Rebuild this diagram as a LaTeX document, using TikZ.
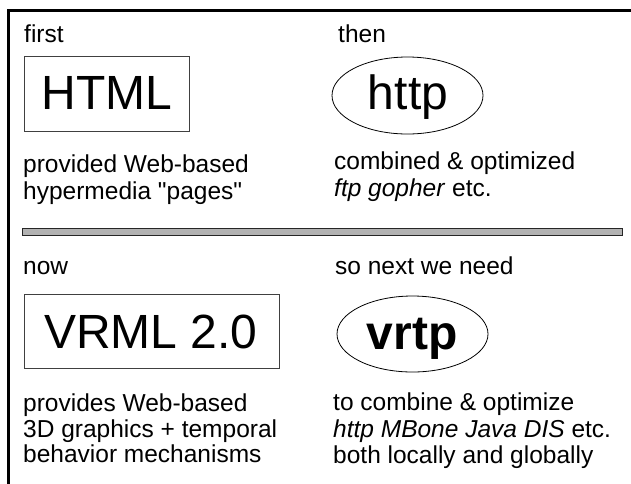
\documentclass[tikz,border=0pt]{standalone}
\usepackage{fontspec}
\setmainfont{Liberation Sans}
\usetikzlibrary{shapes.geometric}
\tikzset{
  lbl/.style={anchor=base west, inner sep=0pt, font=\fontsize{24.5}{27}\selectfont, align=left},
  bigtxt/.style={anchor=base, inner sep=0pt, font=\fontsize{48}{50}\selectfont},
  bigbox/.style={draw=black!75, line width=1pt, inner sep=0pt},
  bigell/.style={ellipse, draw=black, line width=0.8pt, inner sep=0pt},
}
\begin{document}
\begin{tikzpicture}[x=1pt,y=-1pt]
\useasboundingbox (0,0) rectangle (631,483);
\fill[white] (0,0) rectangle (631,483);
% frame
\draw[line width=3pt] (8.5,490) -- (8.5,10.5) -- (640,10.5);
% top half
\node[lbl] (first) at (24,42) {first};
\node[bigbox, minimum width=165, minimum height=75] (html) at (106.5,93.5) {};
\node[bigtxt] (htmltxt) at (107,109) {HTML};
\node[lbl] (then) at (338,42) {then};
\node[bigell, minimum width=151, minimum height=77] (http) at (407.5,95.5) {};
\node[bigtxt] (httptxt) at (408,109) {http};
\node[lbl] (prov) at (23,172) {provided Web-based};
\node[lbl] (hyper) at (23,199) {hypermedia \textquotedbl pages\textquotedbl};
\node[lbl] (comb) at (334,169) {combined \& optimized};
\node[lbl] (ftp) at (334,196) {\textit{ftp gopher} etc.};
% separator bar
\node[draw=black!85, fill=black!30, line width=1pt, minimum width=600, minimum height=7, inner sep=0pt] (bar) at (322,231.5) {};
% bottom half
\node[lbl] (now) at (23,274) {now};
\node[lbl] (next) at (335,274) {so next we need};
\node[bigbox, minimum width=255, minimum height=74] (vrml) at (151.5,331) {};
\node[bigtxt] (vrmltxt) at (151,348) {VRML 2.0};
\node[bigell, minimum width=151, minimum height=76] (vrtp) at (412.5,334) {};
\node[bigtxt, font=\fontsize{48}{50}\selectfont\bfseries] (vrtptxt) at (412,349) {vrtp};
\node[lbl] (provs) at (23,411) {provides Web-based};
\node[lbl] (gfx) at (23,437) {3D graphics + temporal};
\node[lbl] (beh) at (23,462) {behavior mechanisms};
\node[lbl] (tocomb) at (333,410) {to combine \& optimize};
\node[lbl] (mbone) at (333,437) {\textit{http MBone Java DIS} etc.};
\node[lbl] (both) at (333,463) {both locally and globally};
\end{tikzpicture}
\end{document}
